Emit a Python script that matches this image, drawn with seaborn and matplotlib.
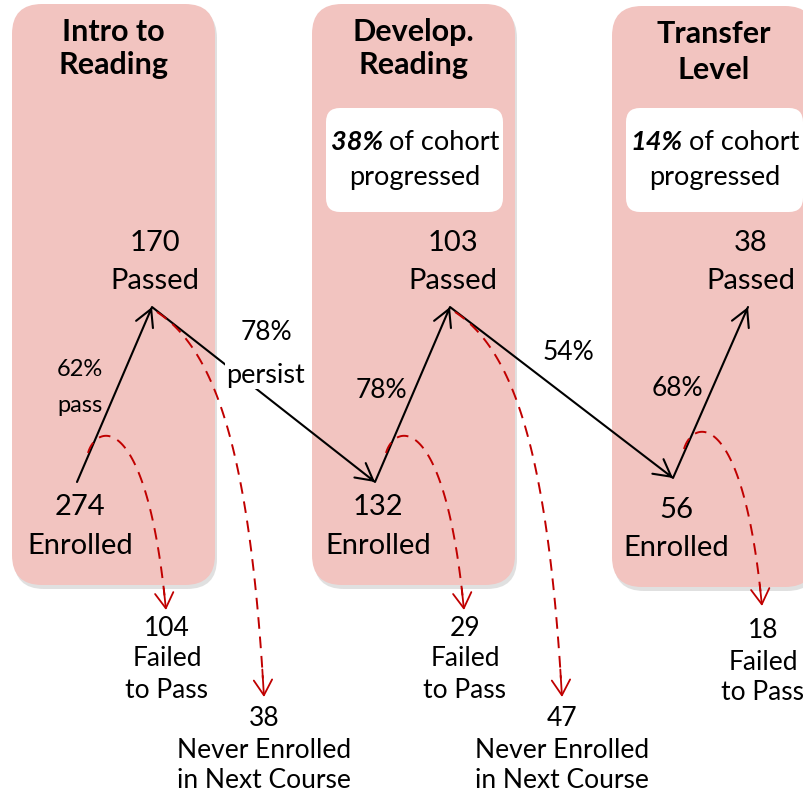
import numpy as np
import pandas as pd
import matplotlib.pyplot as plt
from matplotlib.patches import FancyBboxPatch
import seaborn as sns

sns.set_theme(style='white')
plt.rcParams['font.family'] = ['Lato', 'DejaVu Sans']
plt.rcParams['text.color'] = 'black'

# ==================== data ====================
stages = ['Intro to\nReading', 'Develop.\nReading', 'Transfer\nLevel']
enrolled = [274, 132, 56]
passed = [170, 103, 38]
failed = [104, 29, 18]
never_enrolled = [38, 47]
pass_rate = [62, 78, 68]
persist_rate = [78, 54]
cohort_progressed = [None, 38, 14]

# ==================== layout (pixel coords) ====================
panel_x = [12, 312, 612]
panel_w = 203
base_pts = [(77, 482), (375, 482), (673, 478)]   # enrolled end of pass arrow
tip_pts = [(152, 307), (450, 307), (748, 307)]   # passed end of pass arrow
enrolled_y = [(507, 546), (507, 546), (510, 548)]
pink = '#F2C4C0'
red = '#C00000'

fig = plt.figure(figsize=(8.04, 7.96), dpi=100)
ax = fig.add_axes([0, 0, 1, 1])
ax.set_xlim(0, 804)
ax.set_ylim(796, 0)
ax.axis('off')

# panels with soft shadow
for i, x0 in enumerate(panel_x):
    y0 = 4 if i < 2 else 6
    shadow = FancyBboxPatch((x0 + 2, y0 + 4), panel_w, 581, boxstyle='round,pad=0,rounding_size=30',
                            fc='#9a9a9a', ec='none', alpha=0.3, zorder=0)
    ax.add_patch(shadow)
    ax.add_patch(FancyBboxPatch((x0, y0), panel_w, 581, boxstyle='round,pad=0,rounding_size=30',
                                fc=pink, ec='none', zorder=1))

# titles
title_y = [(32, 65), (32, 65), (34, 70)]
for i, name in enumerate(stages):
    cx = panel_x[i] + panel_w / 2
    for line, yy in zip(name.split('\n'), title_y[i]):
        ax.text(cx, yy, line, ha='center', va='center', fontsize=22, fontweight='bold', zorder=5)

# cohort boxes
for i, pct in enumerate(cohort_progressed):
    if pct is None:
        continue
    bx = panel_x[i] + 14
    ax.add_patch(FancyBboxPatch((bx, 108), 177, 104, boxstyle='round,pad=0,rounding_size=14',
                                fc='white', ec='none', zorder=2))
    split = bx + 59
    ax.text(split - 2, 142, f'{pct}%', ha='right', va='center', fontsize=19.5,
            fontweight='bold', fontstyle='italic', zorder=5)
    ax.text(split + 4, 142, 'of cohort', ha='left', va='center', fontsize=19.5, zorder=5)
    ax.text(bx + 89, 178, 'progressed', ha='center', va='center', fontsize=19.5, zorder=5)

# zigzag flow line (enrolled -> passed -> next enrolled ...)
zig = []
for i in range(3):
    zig.append(base_pts[i])
    zig.append(tip_pts[i])
zig_df = pd.DataFrame(zig, columns=['x', 'y']).reset_index()
sns.lineplot(data=zig_df, x='x', y='y', sort=False, estimator=None, color='black',
             linewidth=1.5, ax=ax, zorder=3)

head = dict(arrowstyle='->,head_length=0.55,head_width=0.3', mutation_scale=22,
            color='black', lw=1.5, shrinkA=0, shrinkB=0)
for i in range(len(zig) - 1):
    (x1, y1), (x2, y2) = zig[i], zig[i + 1]
    v = np.array([x2 - x1, y2 - y1], float)
    v /= np.hypot(*v)
    ax.annotate('', xy=(x2, y2), xytext=(x2 - 6 * v[0], y2 - 6 * v[1]), arrowprops=head, zorder=4)


def bezier(p0, p1, p2, p3, n=80):
    t = np.linspace(0, 1, n)[:, None]
    pts = ((1 - t) ** 3 * np.array(p0) + 3 * (1 - t) ** 2 * t * np.array(p1)
           + 3 * (1 - t) * t ** 2 * np.array(p2) + t ** 3 * np.array(p3))
    return pts[:, 0], pts[:, 1]


red_head = dict(arrowstyle='->,head_length=0.5,head_width=0.3', mutation_scale=22,
                color=red, lw=1.3, shrinkA=0, shrinkB=0)


def dashed_curve(p0, p1, p2, p3):
    xs, ys = bezier(p0, p1, p2, p3)
    ax.plot(xs[:-2], ys[:-2], color=red, lw=1.4, ls=(0, (6, 4)), zorder=3)
    ax.annotate('', xy=p3, xytext=(xs[-4], ys[-4]), arrowprops=red_head, zorder=4)


# failed-to-pass and never-enrolled flows
for i in range(3):
    bx, by = base_pts[i]
    tx, ty = tip_pts[i]
    fx = bx + 89
    dashed_curve((bx + 11, by - 29), (bx + 20, by - 60), (bx + 70, by - 70), (fx, by + 128))
    for line, yy in zip([str(failed[i]), 'Failed', 'to Pass'], [628, 659, 690]):
        ax.text(fx + 1, yy + (3 if i == 2 else 0), line, ha='center', va='center', fontsize=19, zorder=5)
    if i < 2:
        nx = tx + 112
        dashed_curve((tx + 5, ty + 5), (tx + 63, ty + 43), (tx + 98, ty + 143), (nx, ty + 390))
        for line, yy in zip([str(never_enrolled[i]), 'Never Enrolled', 'in Next Course'], [718, 750, 780]):
            ax.text(nx, yy, line, ha='center', va='center', fontsize=19, zorder=5)

# counts
for i in range(3):
    bx, by = base_pts[i]
    tx, ty = tip_pts[i]
    ax.text(tx + 3, 243, str(passed[i]), ha='center', va='center', fontsize=21, zorder=5)
    ax.text(tx + 3, 281, 'Passed', ha='center', va='center', fontsize=21, zorder=5)
    ax.text(bx + 3, enrolled_y[i][0], str(enrolled[i]), ha='center', va='center', fontsize=21, zorder=5)
    ax.text(bx + 3, enrolled_y[i][1], 'Enrolled', ha='center', va='center', fontsize=21, zorder=5)

# rates
ax.text(80, 370, f'{pass_rate[0]}%', ha='center', va='center', fontsize=17, zorder=5)
ax.text(80, 405, 'pass', ha='center', va='center', fontsize=17, zorder=5)
ax.text(381, 390, f'{pass_rate[1]}%', ha='center', va='center', fontsize=19, zorder=5)
ax.text(677, 389, f'{pass_rate[2]}%', ha='center', va='center', fontsize=19, zorder=5)

ax.text(266, 333, f'{persist_rate[0]}%', ha='center', va='center', fontsize=19, zorder=5)
ax.text(266, 375, 'persist', ha='center', va='center', fontsize=19.5, zorder=5,
        bbox=dict(fc='white', ec='none', pad=1))
ax.text(568, 352, f'{persist_rate[1]}%', ha='center', va='center', fontsize=19, zorder=5)

fig.savefig('out.png', dpi=100)
